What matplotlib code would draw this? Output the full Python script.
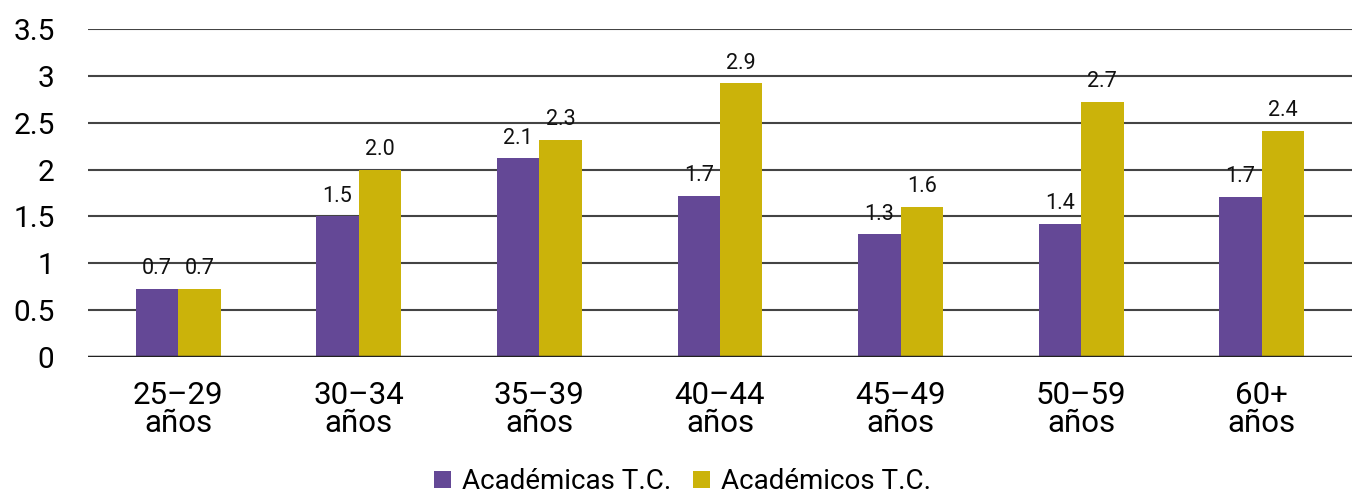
import matplotlib.pyplot as plt
import numpy as np

plt.rcParams['font.family'] = ['Roboto', 'DejaVu Sans']

grupos = ["25–29\naños", "30–34\naños", "35–39\naños", "40–44\naños",
          "45–49\naños", "50–59\naños", "60+\naños"]
academicas = [0.73, 1.50, 2.12, 1.72, 1.31, 1.42, 1.71]
academicos = [0.73, 2.00, 2.32, 2.92, 1.60, 2.72, 2.41]
series = ["Académicas T.C.", "Académicos T.C."]

morado = "#644896"
amarillo = "#CBB30A"

fig = plt.figure(figsize=(13.52, 4.98), dpi=100)
ax = fig.add_axes([0.065, 0.283, 0.935, 0.659])

x = np.arange(len(grupos))
ancho = 0.235
b1 = ax.bar(x - ancho / 2, academicas, ancho, color=morado, label=series[0], zorder=3)
b2 = ax.bar(x + ancho / 2, academicos, ancho, color=amarillo, label=series[1], zorder=3)

for barras in (b1, b2):
    ax.bar_label(barras, fmt="%.1f", padding=7, fontsize=15.5, color="#111111")

ax.set_xlim(-0.5, len(grupos) - 0.5)
ax.set_ylim(0, 3.5)
ax.set_yticks(np.arange(0, 3.51, 0.5))
ax.set_yticklabels(["0", "0.5", "1", "1.5", "2", "2.5", "3", "3.5"])
ax.set_xticks(x)
ax.set_xticklabels(grupos, fontsize=22.5, linespacing=0.95)
ax.tick_params(axis="y", labelsize=21.5, length=0, pad=24)
ax.tick_params(axis="x", length=0, pad=17)
for lbl in ax.get_yticklabels():
    lbl.set_horizontalalignment("right")

ax.grid(axis="y", color="#444444", linewidth=1.5, zorder=0)
ax.axhline(0, color="#222222", linewidth=2.5, zorder=4)
for s in ax.spines.values():
    s.set_visible(False)

fig.legend(loc="lower center", bbox_to_anchor=(0.505, -0.045), ncol=2, frameon=False,
           fontsize=20, handlelength=0.6, handleheight=0.6, handletextpad=0.4,
           columnspacing=0.8)

plt.savefig("out.png", dpi=100)
